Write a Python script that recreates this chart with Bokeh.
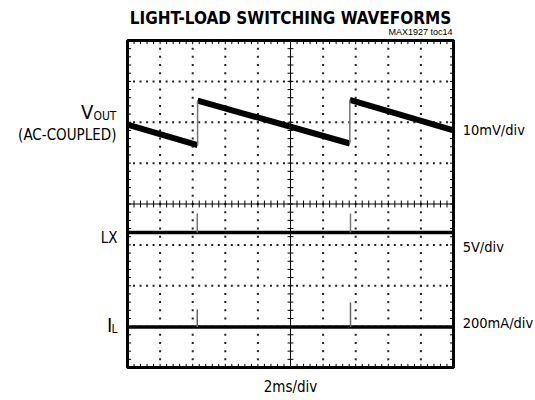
import numpy as np
from bokeh.plotting import figure
from bokeh.models import Label, Range1d
from bokeh.embed import file_html
from bokeh.resources import INLINE

# ---- data (scope divisions: x 0..10, y 0..8 from bottom) ----
vout_ramp_t = [[0.0, 2.15], [2.15, 6.82], [6.82, 10.0]]
vout_ramp_v = [[5.94, 5.44], [6.53, 5.48], [6.55, 5.80]]
vout_jump_t = [2.15, 6.82]
vout_jump_lo = [5.44, 5.48]
vout_jump_hi = [6.53, 6.55]

lx_t = [0.0, 10.0]
lx_v = [3.30, 3.30]
lx_spike_t = [2.14, 6.84]
lx_spike_top = [3.77, 3.77]

il_t = [0.0, 10.0]
il_v = [0.99, 0.99]
il_spike_t = [2.14, 6.84]
il_spike_top = [1.42, 1.59]

NARROW = "'DejaVu Sans Condensed', 'Liberation Sans Narrow', sans-serif"
REG = "'Liberation Sans', Arial, sans-serif"

W, H = 535, 400
DX, DY = 32.6, 40.875          # pixels per division
X0, Y0 = 127, 367              # pixel position of the scope's lower-left corner

p = figure(width=W, height=H,
           x_range=Range1d(-X0 / DX, (W - X0) / DX),
           y_range=Range1d(-(H - Y0) / DY, Y0 / DY),
           x_axis_type=None, y_axis_type=None, toolbar_location=None,
           output_backend="svg", min_border=0)
p.outline_line_color = None
p.background_fill_color = "white"
p.border_fill_color = "white"

# ---- graticule dots ----
gx, gy = [], []
for yl in [1, 2, 3, 5, 6, 7]:
    for xs in np.arange(0, 10.001, 0.2):
        gx.append(xs); gy.append(yl)
for xl in [1, 2, 3, 4, 6, 7, 8, 9]:
    for ys in np.arange(0, 8.001, 0.2):
        gx.append(xl); gy.append(ys)
p.scatter(gx, gy, marker="square", size=2, fill_color="#222222", line_color=None)

# center axes
p.segment(x0=[0], y0=[4], x1=[10], y1=[4], line_color="black", line_width=1.2)
p.segment(x0=[5], y0=[0], x1=[5], y1=[8], line_color="black", line_width=1)
cx = np.arange(0, 10.001, 0.2)
p.segment(x0=cx, y0=4 - 0.085, x1=cx, y1=4 + 0.085, line_color="black", line_width=1)
cy = np.arange(0, 8.001, 0.2)
p.segment(x0=5 - 0.09, y0=cy, x1=5 + 0.09, y1=cy, line_color="black", line_width=1)

# border ticks
p.segment(x0=cx, y0=8, x1=cx, y1=8 - 0.09, line_color="black", line_width=1)
p.segment(x0=cx, y0=0, x1=cx, y1=0.09, line_color="black", line_width=1)
p.segment(x0=0, y0=cy, x1=0.11, y1=cy, line_color="black", line_width=1)
p.segment(x0=10, y0=cy, x1=10 - 0.11, y1=cy, line_color="black", line_width=1)

# ---- traces ----
p.multi_line(vout_ramp_t, vout_ramp_v, line_color="black", line_width=6)
p.segment(x0=vout_jump_t, y0=vout_jump_lo, x1=vout_jump_t, y1=vout_jump_hi,
          line_color="#777777", line_width=1.5)

p.line(lx_t, lx_v, line_color="black", line_width=3.5)
p.segment(x0=lx_spike_t, y0=lx_v[0], x1=lx_spike_t, y1=lx_spike_top,
          line_color="#777777", line_width=1.5)

p.line(il_t, il_v, line_color="black", line_width=3.5)
p.segment(x0=il_spike_t, y0=il_v[0], x1=il_spike_t, y1=il_spike_top,
          line_color="#666666", line_width=1.5)

# scope border
p.quad(left=[0], right=[10], bottom=[0], top=[8], fill_color=None,
       line_color="black", line_width=3)

# ---- texts ----
def lab(txt, x, y, size, align="left", base="middle", font=NARROW, style="normal"):
    p.add_layout(Label(x=x, y=y, text=txt, text_font=font, text_font_size=f"{size}px",
                       text_align=align, text_baseline=base, text_font_style=style,
                       text_color="black"))

lab("LIGHT-LOAD SWITCHING WAVEFORMS", 5.0, 8.55, 17, align="center", style="bold")
lab("MAX1927 toc14", 9.97, 8.208, 9, align="right", font=REG)

lab("OUT", -0.34, 6.153, 12, align="right")
lab("V", -1.05, 6.25, 20, align="right")
lab("(AC-COUPLED)", -0.34, 5.688, 15, align="right")
lab("10mV/div", 10.28, 5.80, 14.5)

lab("LX", -0.31, 3.18, 15, align="right")
lab("5V/div", 10.28, 2.94, 14.5)

lab("L", -0.31, 0.954, 12, align="right")
lab("I", -0.47, 1.04, 20, align="right")
lab("200mA/div", 10.28, 1.08, 14.5)

lab("2ms/div", 5.0, -0.465, 15, align="center")

open("out.html", "w").write(file_html(p, INLINE))
